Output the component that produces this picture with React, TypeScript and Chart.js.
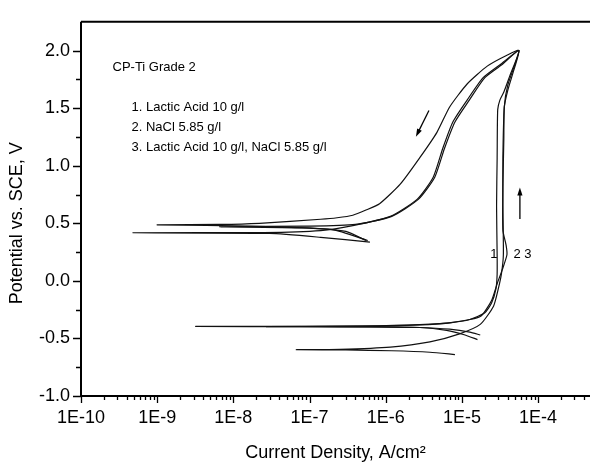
import React, { useEffect, useRef } from 'react';
import { Chart, registerables } from 'chart.js';

Chart.register(...registerables);

const FONT = "'Liberation Sans', Arial, Helvetica, sans-serif";

// Axis ticks
const decadeTicks = [1e-10, 1e-9, 1e-8, 1e-7, 1e-6, 1e-5, 1e-4];
const potentialTicks = [-1.0, -0.5, 0.0, 0.5, 1.0, 1.5, 2.0];

// Curve 1: Lactic Acid 10 g/l (forward scan, then reverse scan)
const curve1Current = [
  1.74e-5, 1.27e-5, 6.9e-6, 2.8e-6, 8.3e-7, 7.4e-8, 3.2e-9, 9e-8, 9e-7, 2.8e-6, 6.9e-6, 1.27e-5,
  2.0e-5, 2.45e-5, 2.8e-5, 2.9e-5, 2.9e-5, 2.85e-5, 2.9e-5, 2.95e-5, 3.15e-5, 3.55e-5, 4.25e-5, 5.6e-5,
  3.2e-5, 1.9e-5, 1.17e-5, 7.6e-6, 5.6e-6, 4.2e-6, 2.6e-6, 1.15e-6, 3.7e-7, 1.4e-7, 2.5e-8, 4.8e-10,
  3e-8, 1.4e-7, 6.2e-7,
];
const curve1Potential = [
  -0.47, -0.445, -0.42, -0.405, -0.4, -0.398, -0.396, -0.394, -0.39, -0.383, -0.365, -0.336,
  -0.277, -0.193, -0.067, 0.06, 0.227, 0.647, 1.067, 1.487, 1.57, 1.64, 1.78, 2.0,
  1.88, 1.765, 1.57, 1.38, 1.15, 0.9, 0.71, 0.56, 0.48, 0.437, 0.42, 0.418,
  0.412, 0.378, 0.336,
];

// Curve 2: NaCl 5.85 g/l
const curve2Current = [
  1.6e-5, 1.1e-5, 6.3e-6, 2.8e-6, 6e-7, 2.7e-8, 5e-7, 2.8e-6, 7.6e-6, 1.74e-5, 2.45e-5, 2.9e-5,
  3.4e-5, 3.9e-5, 3.8e-5, 3.45e-5, 3.45e-5, 3.55e-5, 3.6e-5, 4.0e-5, 4.7e-5, 5.6e-5,
  3.3e-5, 2.0e-5, 1.25e-5, 8.1e-6, 5.9e-6, 4.4e-6, 2.7e-6, 1.2e-6, 4.0e-7, 1.0e-7, 6.6e-9,
  8e-8, 3e-7, 5.5e-7,
];
const curve2Potential = [
  -0.51, -0.47, -0.43, -0.405, -0.399, -0.397, -0.392, -0.38, -0.36, -0.31, -0.17, -0.025,
  0.1, 0.227, 0.31, 0.44, 0.815, 1.235, 1.51, 1.655, 1.81, 2.0,
  1.875, 1.765, 1.57, 1.38, 1.15, 0.9, 0.71, 0.56, 0.49, 0.475, 0.47,
  0.46, 0.43, 0.35,
];

// Curve 3: Lactic Acid 10 g/l, NaCl 5.85 g/l
const curve3Current = [
  8.1e-6, 3.8e-6, 1.2e-6, 3e-7, 6.7e-8, 2.5e-7, 1.15e-6, 3.8e-6, 9.3e-6, 1.74e-5, 2.6e-5, 3.0e-5,
  3.3e-5, 3.5e-5, 3.45e-5, 3.45e-5, 3.6e-5, 4.0e-5, 5.6e-5,
  3.9e-5, 2.15e-5, 1.17e-5, 6.9e-6, 4.7e-6, 2.8e-6, 1.55e-6, 8.3e-7, 5.5e-7, 3.7e-7, 2.3e-7, 1.4e-7,
  2.2e-8, 6.6e-9, 1.0e-9, 1.7e-8, 2e-7, 5.8e-7,
];
const curve3Potential = [
  -0.64, -0.62, -0.607, -0.6, -0.598, -0.594, -0.575, -0.53, -0.46, -0.378, -0.22, -0.07,
  0.06, 0.227, 0.647, 1.067, 1.51, 1.7, 2.0,
  1.96, 1.865, 1.71, 1.51, 1.29, 1.07, 0.84, 0.67, 0.615, 0.57, 0.548, 0.535,
  0.5, 0.49, 0.487, 0.475, 0.445, 0.35,
];

const noteTitle = 'CP-Ti Grade 2';
const noteLines = ['1. Lactic Acid 10 g/l', '2. NaCl 5.85 g/l', '3. Lactic Acid 10 g/l, NaCl 5.85 g/l'];
const curveLabelLeft = '1';
const curveLabelRight = '2 3';
const xTitle = 'Current Density, A/cm\u00B2';
const yTitle = 'Potential vs. SCE, V';

function toPoints(cur: number[], pot: number[]) {
  return cur.map((c, i) => ({ x: c, y: pot[i] }));
}

function arrow(ctx: CanvasRenderingContext2D, x0: number, y0: number, x1: number, y1: number) {
  const ang = Math.atan2(y1 - y0, x1 - x0);
  const hl = 8;
  const hw = 2.6;
  ctx.beginPath();
  ctx.moveTo(x0, y0);
  ctx.lineTo(x1 - Math.cos(ang) * hl * 0.6, y1 - Math.sin(ang) * hl * 0.6);
  ctx.stroke();
  ctx.beginPath();
  ctx.moveTo(x1, y1);
  ctx.lineTo(x1 - Math.cos(ang) * hl - Math.sin(ang) * hw, y1 - Math.sin(ang) * hl + Math.cos(ang) * hw);
  ctx.lineTo(x1 - Math.cos(ang) * hl + Math.sin(ang) * hw, y1 - Math.sin(ang) * hl - Math.cos(ang) * hw);
  ctx.closePath();
  ctx.fill();
}

const overlay = {
  id: 'overlay',
  afterDraw(chart: any) {
    const { ctx, chartArea: a, scales } = chart;
    const x = scales.x;
    const y = scales.y;
    ctx.save();
    ctx.strokeStyle = '#000';
    ctx.fillStyle = '#000';
    // frame: left, bottom, top
    ctx.lineWidth = 2;
    ctx.beginPath();
    ctx.moveTo(a.left, a.top);
    ctx.lineTo(a.right, a.top);
    ctx.moveTo(a.left, a.top);
    ctx.lineTo(a.left, a.bottom);
    ctx.moveTo(a.left, a.bottom);
    ctx.lineTo(a.right, a.bottom);
    ctx.stroke();
    // x ticks (major at decades, minor at 2..9)
    ctx.lineWidth = 1.3;
    ctx.beginPath();
    for (let k = -10; k <= -4; k++) {
      for (let m = 1; m <= 9; m++) {
        const v = m * Math.pow(10, k);
        if (v > x.max) break;
        const px = Math.round(x.getPixelForValue(v)) + 0.5;
        const len = m === 1 ? 7 : 4;
        ctx.moveTo(px, a.bottom);
        ctx.lineTo(px, a.bottom + len);
      }
    }
    // y ticks (major every 0.5, minor every 0.25)
    for (let i = 0; i <= 12; i++) {
      const v = -1 + i * 0.25;
      const py = Math.round(y.getPixelForValue(v)) + 0.5;
      const len = i % 2 === 0 ? 8 : 5;
      ctx.moveTo(a.left, py);
      ctx.lineTo(a.left - len, py);
    }
    ctx.stroke();

    // notes
    ctx.font = `13px ${FONT}`;
    ctx.textBaseline = 'alphabetic';
    ctx.textAlign = 'left';
    ctx.fillText(noteTitle, a.left + 31.5, a.top + 49);
    noteLines.forEach((t, i) => {
      ctx.fillText(t, a.left + 50.5, a.top + 89 + i * 20.2);
    });
    // curve labels
    ctx.fillText(curveLabelLeft, x.getPixelForValue(2.35e-5), y.getPixelForValue(0.2));
    ctx.fillText(curveLabelRight, x.getPixelForValue(4.74e-5), y.getPixelForValue(0.2));

    // arrows
    ctx.lineWidth = 1.3;
    arrow(ctx, x.getPixelForValue(3.69e-6), y.getPixelForValue(1.479), x.getPixelForValue(2.49e-6), y.getPixelForValue(1.252));
    arrow(ctx, x.getPixelForValue(5.77e-5), y.getPixelForValue(0.538), x.getPixelForValue(5.77e-5), y.getPixelForValue(0.81));

    // y axis title
    ctx.font = `18px ${FONT}`;
    ctx.textAlign = 'center';
    ctx.textBaseline = 'middle';
    ctx.translate(17, a.top + 201.5);
    ctx.rotate(-Math.PI / 2);
    ctx.fillText(yTitle, 0, 0);
    ctx.restore();
  },
};

export default function App() {
  const ref = useRef<HTMLCanvasElement>(null);
  useEffect(() => {
    document.body.style.margin = '0';
    const lineStyle = {
      borderColor: '#111',
      borderWidth: 1.2,
      pointRadius: 0,
      fill: false,
      tension: 0.2,
    };
    const chart = new Chart(ref.current as HTMLCanvasElement, {
      type: 'line',
      data: {
        datasets: [
          { label: noteLines[0], data: toPoints(curve1Current, curve1Potential), ...lineStyle },
          { label: noteLines[1], data: toPoints(curve2Current, curve2Potential), ...lineStyle },
          { label: noteLines[2], data: toPoints(curve3Current, curve3Potential), ...lineStyle },
        ],
      },
      options: {
        responsive: false,
        animation: false,
        layout: { padding: { top: 10, left: 0, right: 0, bottom: 0 } },
        plugins: { legend: { display: false }, tooltip: { enabled: false } },
        scales: {
          x: {
            type: 'logarithmic',
            position: 'bottom',
            min: 1e-10,
            max: 4.8e-4,
            afterBuildTicks: (s: any) => {
              s.ticks = decadeTicks.map((v) => ({ value: v }));
            },
            afterFit: (s: any) => {
              s.height = 68;
            },
            grid: { display: false, drawTicks: false },
            border: { display: false },
            ticks: {
              autoSkip: false,
              maxRotation: 0,
              padding: 11,
              color: '#000',
              font: { family: FONT, size: 18 },
              callback: (v: any) => '1E' + Math.round(Math.log10(Number(v))),
            },
            title: {
              display: true,
              text: xTitle,
              color: '#000',
              font: { family: FONT, size: 18 },
              padding: { top: 0, bottom: 0 },
            },
          },
          y: {
            type: 'linear',
            min: -1,
            max: 2.25,
            afterBuildTicks: (s: any) => {
              s.ticks = potentialTicks.map((v) => ({ value: v }));
            },
            afterFit: (s: any) => {
              s.width = 81;
            },
            grid: { display: false, drawTicks: false },
            border: { display: false },
            ticks: {
              padding: 11,
              color: '#000',
              font: { family: FONT, size: 18 },
              callback: (v: any) => Number(v).toFixed(1),
            },
            title: { display: false, text: yTitle },
          },
        },
      },
      plugins: [overlay],
    } as any);
    return () => chart.destroy();
  }, []);
  return <canvas ref={ref} width={590} height={464} style={{ display: 'block' }} />;
}
